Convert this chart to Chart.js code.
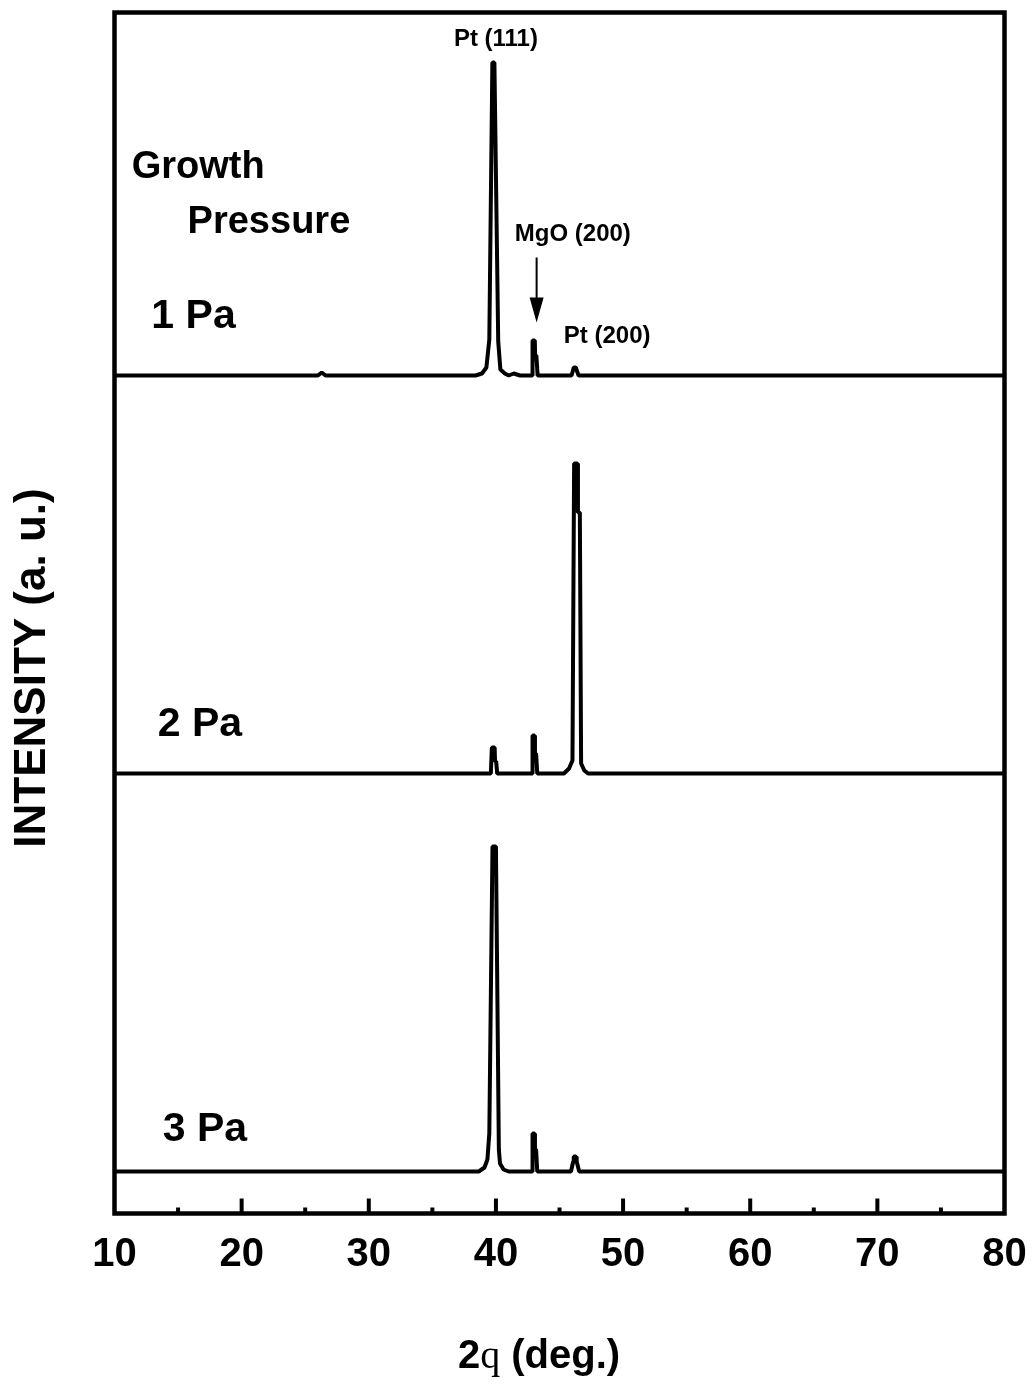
<!DOCTYPE html>
<html>
<head>
<meta charset="utf-8">
<title>XRD patterns vs growth pressure</title>
<script src="https://cdn.jsdelivr.net/npm/chart.js@4.4.1/dist/chart.umd.min.js"></script>
<style>
  html, body { margin: 0; padding: 0; background: #fff; }
  #wrap { width: 1032px; height: 1385px; position: relative; }
</style>
</head>
<body>
<div id="wrap"><canvas id="chart" width="1032" height="1385"></canvas></div>
<script>
// 2-theta positions and intensities (a.u.) for each growth pressure
const angle1Pa = [10, 26.0, 26.3, 26.6, 38.4, 38.9, 39.25, 39.48, 39.72, 39.88, 40.18, 40.35, 40.7, 41.0, 41.4, 41.9, 42.85, 42.88, 43.06, 43.08, 43.18, 43.28, 45.95, 46.12, 46.28, 46.5, 80];
const int1Pa   = [0, 0, 3, 0, 0, 2, 8, 36, 313, 313, 34, 6, 2, 0, 2, 0, 0, 35, 35, 20, 20, 0, 0, 8, 8, 0, 0];

const angle2Pa = [10, 39.6, 39.68, 39.9, 39.93, 40.02, 40.1, 42.85, 42.88, 43.04, 43.07, 43.16, 43.25, 45.35, 45.75, 46.02, 46.15, 46.42, 46.45, 46.6, 46.7, 46.95, 47.25, 80];
const int2Pa   = [0, 0, 26, 26, 12, 12, 0, 0, 38, 38, 20, 20, 0, 0, 5, 13, 310, 310, 261, 261, 10, 3, 0, 0];

const angle3Pa = [10, 38.65, 39.1, 39.33, 39.48, 39.73, 40.0, 40.23, 40.32, 40.6, 41.0, 42.85, 42.88, 43.04, 43.07, 43.16, 43.25, 45.9, 46.08, 46.12, 46.3, 46.35, 46.55, 80];
const int3Pa   = [0, 0, 4, 12, 38, 325, 325, 22, 8, 2, 0, 0, 38, 38, 22, 22, 0, 0, 10, 15, 15, 10, 0, 0];

// vertical stacking offsets for each trace
const offsets = [838, 440, 42];
const pressureLabels = ['1 Pa', '2 Pa', '3 Pa'];
const xTicks = [10, 20, 30, 40, 50, 60, 70, 80];

function stack(angles, ints, off) {
  return angles.map((a, i) => ({ x: a, y: ints[i] + off }));
}

const SANS = '"Liberation Sans", Arial, Helvetica, sans-serif';
const SERIF = '"Liberation Serif", "Times New Roman", serif';

const overlay = {
  id: 'overlay',
  afterDraw(chart) {
    const ctx = chart.ctx;
    const x = chart.scales.x, y = chart.scales.y;
    const a = chart.chartArea;
    ctx.save();
    ctx.fillStyle = '#000';
    ctx.strokeStyle = '#000';

    // frame
    ctx.lineWidth = 4.5;
    ctx.strokeRect(a.left, a.top, a.right - a.left, a.bottom - a.top);

    // inward tick marks on the bottom axis
    for (let v = 15; v < 80; v += 5) {
      const px = x.getPixelForValue(v);
      const len = v % 10 === 0 ? 15 : 6;
      ctx.lineWidth = 4;
      ctx.beginPath();
      ctx.moveTo(px, a.bottom);
      ctx.lineTo(px, a.bottom - len);
      ctx.stroke();
    }

    // text labels
    const txt = (s, vx, vy, size, align) => {
      ctx.font = 'bold ' + size + 'px ' + SANS;
      ctx.textAlign = align;
      ctx.textBaseline = 'alphabetic';
      ctx.fillText(s, x.getPixelForValue(vx), y.getPixelForValue(vy));
    };
    txt('Pt (111)', 40.0, 1168, 24, 'center');
    txt('MgO (200)', 46.05, 973, 24, 'center');
    txt('Pt (200)', 48.75, 871, 24, 'center');
    txt('Growth', 11.35, 1036, 38, 'left');
    txt('Pressure', 15.75, 981, 38, 'left');
    txt(pressureLabels[0], 12.9, 886, 41, 'left');
    txt(pressureLabels[1], 13.4, 478, 41, 'left');
    txt(pressureLabels[2], 13.8, 73, 41, 'left');

    // arrow pointing to MgO (200)
    const ax = x.getPixelForValue(43.2);
    const y0 = y.getPixelForValue(956), y1 = y.getPixelForValue(891);
    ctx.lineWidth = 2;
    ctx.beginPath();
    ctx.moveTo(ax, y0);
    ctx.lineTo(ax, y1 - 22);
    ctx.stroke();
    ctx.beginPath();
    ctx.moveTo(ax - 7, y1 - 25);
    ctx.lineTo(ax + 7, y1 - 25);
    ctx.lineTo(ax, y1);
    ctx.closePath();
    ctx.fill();

    // y axis title
    ctx.save();
    ctx.translate(33, 668);
    ctx.rotate(-Math.PI / 2);
    ctx.font = 'bold 44px ' + SANS;
    ctx.textAlign = 'center';
    ctx.textBaseline = 'middle';
    ctx.fillText('INTENSITY (a. u.)', 0, 0);
    ctx.restore();

    // x axis title: "2" + theta (symbol font fallback shows q) + " (deg.)"
    const parts = [
      { s: '2', f: 'bold 40px ' + SANS },
      { s: 'q', f: '40px ' + SERIF },
      { s: ' (deg.)', f: 'bold 40px ' + SANS }
    ];
    let total = 0;
    parts.forEach(p => { ctx.font = p.f; p.w = ctx.measureText(p.s).width; total += p.w; });
    let cx = 539 - total / 2;
    ctx.textAlign = 'left';
    ctx.textBaseline = 'alphabetic';
    parts.forEach(p => { ctx.font = p.f; ctx.fillText(p.s, cx, 1368); cx += p.w; });

    ctx.restore();
  }
};

const lineStyle = {
  borderColor: '#000',
  borderWidth: 4,
  pointRadius: 0,
  tension: 0,
  fill: false,
  borderJoinStyle: 'bevel'
};

new Chart(document.getElementById('chart').getContext('2d'), {
  type: 'line',
  data: {
    datasets: [
      Object.assign({ label: pressureLabels[0], data: stack(angle1Pa, int1Pa, offsets[0]) }, lineStyle),
      Object.assign({ label: pressureLabels[1], data: stack(angle2Pa, int2Pa, offsets[1]) }, lineStyle),
      Object.assign({ label: pressureLabels[2], data: stack(angle3Pa, int3Pa, offsets[2]) }, lineStyle)
    ]
  },
  options: {
    responsive: false,
    animation: false,
    layout: { padding: { left: 114.5, right: 27.5, top: 12.5, bottom: 0 } },
    plugins: { legend: { display: false }, tooltip: { enabled: false } },
    scales: {
      x: {
        type: 'linear',
        min: 10,
        max: 80,
        afterFit: s => {
          s.height = 1385 - 1213.5;
          s.paddingLeft = 0;
          s.paddingRight = 0;
        },
        afterBuildTicks: s => { s.ticks = xTicks.map(v => ({ value: v })); },
        grid: { display: false, drawTicks: false },
        border: { display: false },
        ticks: {
          autoSkip: false,
          maxRotation: 0,
          padding: 17,
          color: '#000',
          font: { family: SANS, size: 40, weight: 'bold' },
          callback: v => String(v)
        }
      },
      y: {
        type: 'linear',
        min: 0,
        max: 1201,
        display: false
      }
    }
  },
  plugins: [overlay]
});
</script>
</body>
</html>
